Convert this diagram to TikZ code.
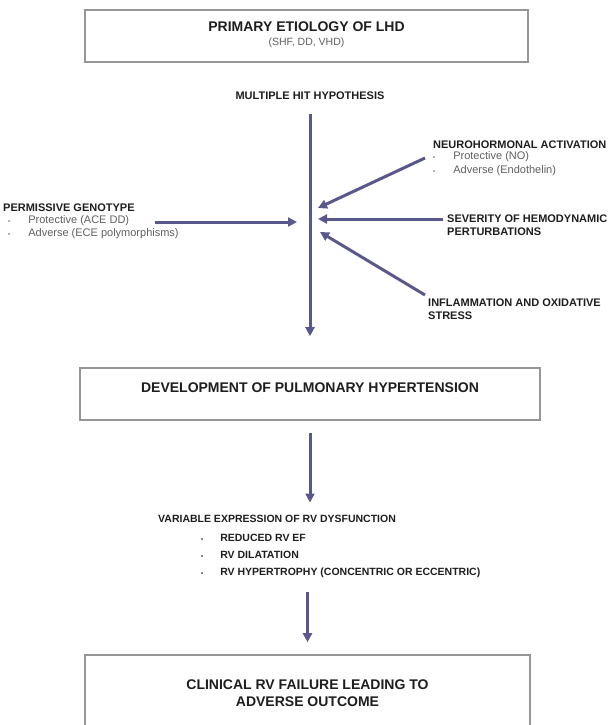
\documentclass[tikz,border=0pt]{standalone}
\usepackage{fontspec}
\setmainfont{Liberation Sans}
\usetikzlibrary{arrows.meta}
\definecolor{arrowblue}{RGB}{88,88,140}
\definecolor{boxgray}{RGB}{150,150,150}
\definecolor{inkgray}{RGB}{30,30,30}
\definecolor{subgray}{RGB}{95,95,95}
\newcommand{\dotb}{{\fontsize{6}{6}\selectfont\textbullet}}

\begin{document}
\begin{tikzpicture}[x=1pt, y=-1pt,
  box/.style={draw=boxgray, line width=1.6pt, fill=white, text=inkgray, align=center, inner sep=0pt,
    font=\fontsize{14}{17}\selectfont\bfseries},
  flow/.style={draw=arrowblue, line width=3pt, -{Triangle[length=9pt,width=9pt]}},
  lbl/.style={text=inkgray, font=\fontsize{11}{13}\selectfont\bfseries, align=left, inner sep=0pt, anchor=north west},
  sub/.style={text=subgray, font=\fontsize{11}{13.5}\selectfont, align=left, inner sep=0pt, anchor=north west}]
  \useasboundingbox (0,0) rectangle (609,725);
  \clip (0,0) rectangle (609,725);

  %caixa inicial
  \node[box, minimum width=443pt, minimum height=52pt, text depth=4pt] (lhd) at (306.5,36)
    {PRIMARY ETIOLOGY OF LHD\\[-3pt]
     {\color{subgray}\fontsize{10.5}{12}\selectfont\mdseries (SHF, DD, VHD)}};
  \node[lbl, anchor=center] (hyp) at (310,96) {MULTIPLE HIT HYPOTHESIS};

  %fatores
  \node[lbl] (perm) at (3,204) {PERMISSIVE GENOTYPE};
  \node[sub] (permlist) at (8,215) {\dotb\hspace{18pt}Protective (ACE DD)\\ \dotb\hspace{18pt}Adverse (ECE polymorphisms)};
  \node[lbl] (neuro) at (433,141) {NEUROHORMONAL ACTIVATION};
  \node[sub] (neurolist) at (433,151.5) {\dotb\hspace{18pt}Protective (NO)\\ \dotb\hspace{18pt}Adverse (Endothelin)};
  \node[lbl] (sev) at (447,215) {SEVERITY OF HEMODYNAMIC\\ PERTURBATIONS};
  \node[lbl] (infl) at (428,299) {INFLAMMATION AND OXIDATIVE\\ STRESS};

  \coordinate (permtail) at (155,222);
  \coordinate (neurotail) at (425,158);
  \coordinate (sevtail) at (443,219);
  \coordinate (infltail) at (425,295);
  \coordinate (hitperm) at (297,222);
  \coordinate (hitneuro) at (318,208);
  \coordinate (hitsev) at (318,219);
  \coordinate (hitinfl) at (320,232);

  \draw[flow] (permtail) -- (hitperm);
  \draw[flow] (neurotail) -- (hitneuro);
  \draw[flow] (sevtail) -- (hitsev);
  \draw[flow] (infltail) -- (hitinfl);

  %hipertensao
  \node[box, minimum width=460pt, minimum height=52pt, text depth=12pt] (ph) at (310,394)
    {DEVELOPMENT OF PULMONARY HYPERTENSION};
  \draw[flow, shorten <=14pt, shorten >=31pt] (hyp.south) -- (hyp.south |- ph.north);

  %disfuncao do VD
  \node[lbl, font=\fontsize{10.5}{13}\selectfont\bfseries] (rv) at (158,514.5) {VARIABLE EXPRESSION OF RV DYSFUNCTION};
  \node[lbl, font=\fontsize{10.5}{17}\selectfont\bfseries] (rvlist) at (201,533.5)
    {\dotb\hspace{17pt}REDUCED RV EF\\ \dotb\hspace{17pt}RV DILATATION\\ \dotb\hspace{17pt}RV HYPERTROPHY (CONCENTRIC OR ECCENTRIC)};
  \draw[flow, shorten <=12pt, shorten >=12pt] (ph.south) -- (ph.south |- rv.north);

  %desfecho
  \node[box, minimum width=445pt, minimum height=76pt] (clin) at (307.5,693)
    {CLINICAL RV FAILURE LEADING TO\\ ADVERSE OUTCOME};
  \draw[flow, shorten <=15pt, shorten >=12pt] (clin.north |- rvlist.south) -- (clin.north);
\end{tikzpicture}
\end{document}
